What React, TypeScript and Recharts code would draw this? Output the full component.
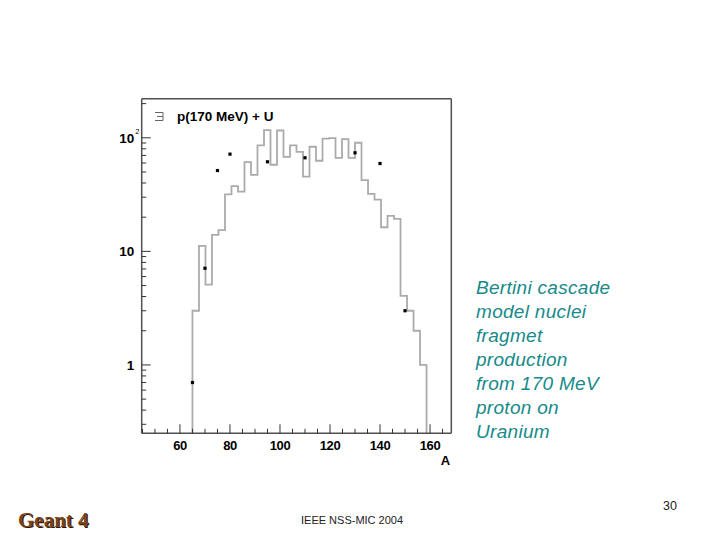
import React from 'react';
import { ComposedChart, Line, Scatter, XAxis, YAxis } from 'recharts';

// Histogram bin edges (A) and counts
const binEdges = [
  65.0, 67.6, 70.2, 72.8, 75.4, 78.0, 80.6, 83.2, 85.8, 88.4, 91.0, 93.6, 96.2,
  98.8, 101.4, 104.0, 106.6, 109.2, 111.8, 114.4, 117.0, 119.6, 122.2, 124.8,
  127.4, 130.0, 132.6, 135.2, 137.8, 140.4, 143.0, 145.6, 148.2, 150.8, 153.4,
  156.0, 158.6,
];
const binCounts = [
  3.0, 11.2, 5.1, 14.0, 15.4, 31.7, 37.5, 33.6, 61, 47.2, 85.7, 117, 57.9, 116,
  68, 85.7, 75.3, 45.6, 83.4, 62.8, 98.2, 99.4, 66.7, 97.5, 66.7, 90.5, 42.4,
  32.1, 28.6, 16.3, 20.5, 19.3, 4.06, 3.0, 2.0, 1.0,
];

// Data points (black squares)
const pointA = [65, 70, 75, 80, 95, 110, 130, 140, 150];
const pointN = [0.7, 7.1, 51.5, 71.8, 61.5, 66.7, 73.8, 59.4, 3.0];

// Axes
const xTicks = [45, 50, 55, 60, 65, 70, 75, 80, 85, 90, 95, 100, 105, 110, 115, 120, 125, 130, 135, 140, 145, 150, 155, 160, 165];
const xMajor = [60, 80, 100, 120, 140, 160];
const yTicks = [0.3, 0.4, 0.5, 0.6, 0.7, 0.8, 0.9, 1, 2, 3, 4, 5, 6, 7, 8, 9, 10, 20, 30, 40, 50, 60, 70, 80, 90, 100, 200];
const yMajor = [1, 10, 100];
const xDomain = [44.7, 168.5];
const yDomain = [0.25, 221];

const legendLabel = 'p(170 MeV) + U';
const sideText = ['Bertini cascade', 'model nuclei', 'fragmet', 'production', 'from 170 MeV', 'proton on', 'Uranium'];

const histData = [
  { x: binEdges[0], y: yDomain[0] },
  ...binCounts.map((c, i) => ({ x: binEdges[i], y: c })),
  { x: binEdges[binEdges.length - 1], y: yDomain[0] },
];
const pointData = pointA.map((a, i) => ({ x: a, y: pointN[i] }));

const FONT = '"Liberation Sans", Arial, Helvetica, sans-serif';
const AXIS = '#505050';

const XTick = (props: any) => {
  const { x, y, payload } = props;
  const v = payload.value;
  const major = xMajor.includes(v);
  return (
    <g>
      <line x1={x} y1={y} x2={x} y2={y - (major ? 9 : 4.5)} stroke="#333" strokeWidth={1} />
      {major && (
        <text x={x} y={y + 16.5} textAnchor="middle" fontFamily={FONT} fontWeight="bold" fontSize={13} fill="#000" letterSpacing={-0.4}>
          {String(v)}
        </text>
      )}
    </g>
  );
};

const YTick = (props: any) => {
  const { x, y, payload } = props;
  const v = payload.value;
  const major = yMajor.includes(v);
  return (
    <g>
      <line x1={x} y1={y} x2={x + (major ? 9 : 4.5)} y2={y} stroke="#333" strokeWidth={1} />
      {major && (
        <text x={x - 7.5} y={y + 5} textAnchor="end" fontFamily={FONT} fontWeight="bold" fontSize={13.5} fill="#000">
          {v === 100 ? '10' : String(v)}
        </text>
      )}
      {v === 100 && (
        <text x={x - 6.5} y={y - 4} fontFamily={FONT} fontSize={7.5} fill="#000">
          2
        </text>
      )}
    </g>
  );
};

const Square = (props: any) => {
  const { cx, cy } = props;
  return <rect x={cx - 1.6} y={cy - 1.6} width={3.2} height={3.2} fill="#000" />;
};

export default function App() {
  return (
    <div style={{ position: 'absolute', left: 0, top: 0, width: 720, height: 540, background: '#fff', overflow: 'hidden' }}>
      <ComposedChart width={720} height={540} margin={{ top: 97.7, right: 267.7, bottom: 105.7, left: 140.7 }}>
        <XAxis
          xAxisId="b"
          type="number"
          dataKey="x"
          domain={xDomain}
          allowDataOverflow
          ticks={xTicks}
          interval={0}
          tickSize={0}
          tickMargin={0}
          tickLine={false}
          height={1}
          axisLine={{ stroke: AXIS, strokeWidth: 1.5 }}
          tick={<XTick />}
        />
        <XAxis
          xAxisId="t"
          orientation="top"
          type="number"
          domain={xDomain}
          allowDataOverflow
          tick={false}
          tickLine={false}
          height={1}
          axisLine={{ stroke: AXIS, strokeWidth: 1.5 }}
        />
        <YAxis
          yAxisId="l"
          type="number"
          dataKey="y"
          scale="log"
          domain={yDomain}
          allowDataOverflow
          ticks={yTicks}
          interval={0}
          tickSize={0}
          tickMargin={0}
          tickLine={false}
          width={1}
          axisLine={{ stroke: AXIS, strokeWidth: 1.5 }}
          tick={<YTick />}
        />
        <YAxis
          yAxisId="r"
          orientation="right"
          type="number"
          scale="log"
          domain={yDomain}
          allowDataOverflow
          tick={false}
          tickLine={false}
          width={1}
          axisLine={{ stroke: AXIS, strokeWidth: 1.5 }}
        />
        <Line
          xAxisId="b"
          yAxisId="l"
          data={histData}
          dataKey="y"
          type="stepAfter"
          stroke="#ababab"
          strokeWidth={1.8}
          dot={false}
          activeDot={false}
          isAnimationActive={false}
        />
        <Scatter
          xAxisId="b"
          yAxisId="l"
          data={pointData}
          dataKey="y"
          shape={<Square />}
          isAnimationActive={false}
        />
      </ComposedChart>
      <svg width={720} height={540} style={{ position: 'absolute', left: 0, top: 0, pointerEvents: 'none' }}>
        {/* legend */}
        <g stroke="#666" strokeWidth={1} fill="none">
          <line x1={155} y1={112.5} x2={163} y2={112.5} />
          <line x1={157} y1={116.5} x2={163} y2={116.5} />
          <line x1={155} y1={120.5} x2={163} y2={120.5} />
          <line x1={163} y1={112.5} x2={163} y2={120.5} />
        </g>
        <text x={177} y={121} fontFamily={FONT} fontWeight="bold" fontSize={13.5} fill="#000">
          {legendLabel}
        </text>
        <text x={445.5} y={465} textAnchor="middle" fontFamily={FONT} fontWeight="bold" fontSize={13} fill="#000">
          A
        </text>
        {sideText.map((t, i) => (
          <text key={i} x={476} y={293.5 + i * 24} fontFamily={FONT} fontStyle="italic" fontSize={19} letterSpacing={0.3} fill="#178a8a">
            {t}
          </text>
        ))}
        <text x={677} y={510} textAnchor="end" fontFamily={FONT} fontSize={12.5} fill="#222">
          30
        </text>
        <text x={301} y={524} fontFamily={FONT} fontSize={11} fill="#222">
          IEEE NSS-MIC 2004
        </text>
        <text x={19} y={528} fontFamily={'"Liberation Serif", "Times New Roman", serif'} fontWeight="bold" fontSize={21} fill="#2e1404">
          Geant 4
        </text>
        <text x={18} y={527} fontFamily={'"Liberation Serif", "Times New Roman", serif'} fontWeight="bold" fontSize={21} fill="#7a4318">
          Geant 4
        </text>
      </svg>
    </div>
  );
}
